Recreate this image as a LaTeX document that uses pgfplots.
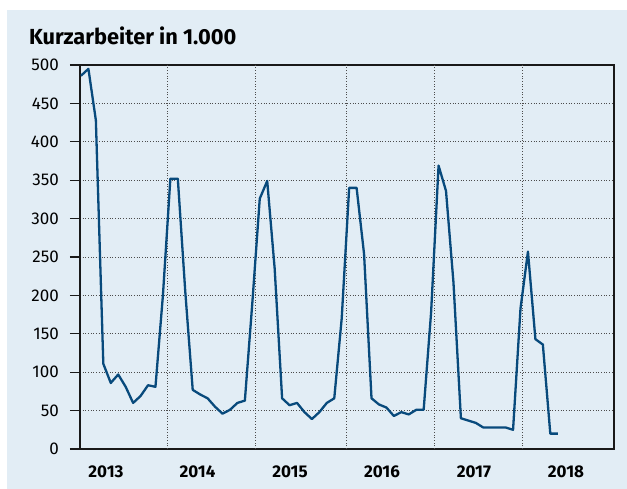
\documentclass[border=0pt]{standalone}
\usepackage{fontspec}
\setmainfont{Fira Sans}
\usepackage{pgfplots}
\pgfplotsset{compat=1.18}
\definecolor{bgblue}{RGB}{226,237,245}
\definecolor{lineblue}{RGB}{8,74,124}
\pgfplotstableread{
m v
0 486
1 495
2 428
3 111
4 86
5 97
6 81
7 60
8 69
9 83
10 81
11 200
12 352
13 352
14 205
15 77
16 71
17 66
18 55
19 46
20 51
21 60
22 63
23 190
24 326
25 349
26 235
27 66
28 57
29 60
30 48
31 39
32 48
33 60
34 66
35 170
36 340
37 340
38 254
39 66
40 58
41 54
42 43
43 48
44 45
45 51
46 51
47 178
48 369
49 336
50 217
51 40
52 37
53 34
54 28
55 28
56 28
57 28
58 25
59 183
60 257
61 143
62 136
63 20
64 20
}\kurz
\begin{document}
\begin{tikzpicture}[x=1pt,y=1pt]
\useasboundingbox (-80,-40) rectangle (547,449);
\fill[bgblue] (-73,-40) rectangle (547,439);
\node[anchor=base west, inner sep=0pt, font=\fontsize{21.8}{24}\selectfont\bfseries] at (-51,404) {Kurzarbeiter in 1.000};
\begin{axis}[
 at={(0,0)}, anchor=south west, scale only axis, width=534pt, height=384pt,
 xmin=-0.13, xmax=71.55, ymin=0, ymax=500,
 axis line style={black!90, line width=1.2pt},
 xtick={3.36,15.64,28.05,40.40,52.75,65.10},
 xticklabels={2013,2014,2015,2016,2017,2018},
 xticklabel style={font=\fontsize{17}{20}\selectfont\bfseries, anchor=north, inner sep=0pt, yshift=-7pt},
 x tick style={draw=none},
 xtick pos=bottom,
 extra x ticks={11.61,23.42,35.57,47.38,59.26},
 extra x tick labels={},
 extra x tick style={grid=major, major tick length=0pt, tick style={draw=none}},
 ytick={0,50,...,500},
 yticklabels={0,50,100,150,200,250,300,350,400,450,500},
 yticklabel style={font=\fontsize{17}{20}\selectfont, anchor=east, inner sep=0pt, xshift=-11pt},
 ymajorgrids,
 grid style={black!70, line width=0.7pt, dash pattern=on 0.8pt off 1.9pt},
 y tick style={black!90, line width=1.2pt},
 tick align=outside, ytick pos=left, major tick length=10pt,
 axis background/.style={},
]
\addplot[lineblue, line width=2.3pt, line join=round] table[x=m, y=v] {\kurz};
\end{axis}
\end{tikzpicture}
\end{document}
